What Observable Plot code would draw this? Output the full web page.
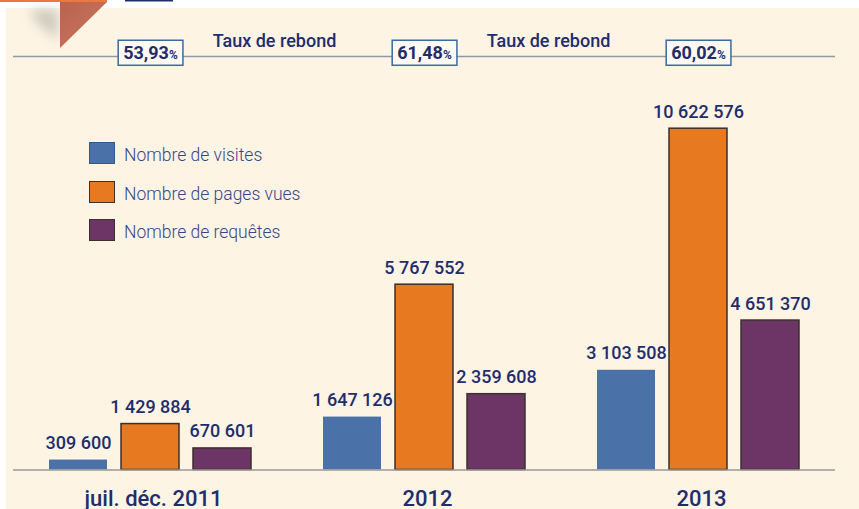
<!DOCTYPE html>
<html><head><meta charset="utf-8">
<script src="https://cdn.jsdelivr.net/npm/d3@7"></script>
<script src="https://cdn.jsdelivr.net/npm/@observablehq/plot@0.6"></script>
<style>
body{margin:0;background:#fff;}
#wrap{position:relative;width:859px;height:509px;overflow:hidden;font-family:Roboto,"Liberation Sans",sans-serif;}
#panel{position:absolute;left:6px;top:8px;right:0;bottom:0;background:#fdf4e4;}
#deco{position:absolute;left:0;top:0;}
#chart{position:absolute;left:0;top:0;}
#legend{position:absolute;left:89px;top:142px;}
.li{display:flex;align-items:center;height:22px;margin-bottom:16.5px;}
.sw{width:24px;height:20px;margin-right:9px;box-sizing:content-box;}
.lt{font-size:17.5px;font-weight:300;color:#34468a;position:relative;top:2px;}
</style></head>
<body>
<div id="wrap">
  <div id="panel"></div>
  <svg id="deco" width="859" height="60">
    <defs>
      <filter id="blur" x="-50%" y="-50%" width="200%" height="200%"><feGaussianBlur stdDeviation="6"/></filter>
      <linearGradient id="tri" x1="0" y1="0" x2="1" y2="1">
        <stop offset="0" stop-color="#b9634f"/><stop offset="1" stop-color="#c8775f"/>
      </linearGradient>
    </defs>
    <path d="M58,9 L30,10 L36,22 L58,40 Z" fill="#7a7a7a" opacity="0.35" filter="url(#blur)"/>
    <rect x="0" y="0" width="107" height="2" fill="#e8793f"/>
    <rect x="125" y="0" width="48" height="1.5" fill="#1f2d6d"/>
    <path d="M60,2 L107,2 L60,48 Z" fill="url(#tri)"/>
  </svg>
  <div id="chart"></div>
  <div id="legend"></div>
</div>
<script>
const years = ["juil. déc. 2011", "2012", "2013"];
const seriesKeys = ["visites", "pages", "requetes"];
const seriesLabels = ["Nombre de visites", "Nombre de pages vues", "Nombre de requêtes"];
const seriesColors = ["#4a72a9", "#e77920", "#6d3566"];
const visites = [309600, 1647126, 3103508];
const pages = [1429884, 5767552, 10622576];
const requetes = [670601, 2359608, 4651370];
const rebond = [53.93, 61.48, 60.02];
const rebondLabel = "Taux de rebond";

const navy = "#1f2d6d";
const valuesBySeries = {visites, pages, requetes};
const data = [];
years.forEach((y, i) => seriesKeys.forEach(s => data.push({year: y, series: s, value: valuesBySeries[s][i]})));
const rebondData = years.map((y, i) => ({year: y, rate: rebond[i]}));
const fmt = v => d3.format(",")(v).replace(/,/g, " ");
const fmtPct = v => d3.format(".2f")(v).replace(".", ",");
const yMax = 12870000;

const plot = Plot.plot({
  width: 859, height: 509,
  marginLeft: 13, marginRight: 24, marginTop: 56, marginBottom: 39.5,
  style: {background: "transparent", fontFamily: "Roboto, 'Liberation Sans', sans-serif", overflow: "visible"},
  fx: {domain: years, padding: 0, axis: null},
  x: {domain: seriesKeys, paddingInner: 0.19, paddingOuter: 0.4726, axis: null},
  y: {domain: [0, yMax], axis: null},
  color: {domain: seriesKeys, range: seriesColors},
  marks: [
    Plot.ruleY([yMax], {stroke: "#8e9aa6", strokeWidth: 1.5}),
    Plot.barY(data.filter(d => d.series === "visites"), {fx: "year", x: "series", y: "value", fill: "series"}),
    Plot.barY(data.filter(d => d.series !== "visites"), {fx: "year", x: "series", y: "value", fill: "series", stroke: "#3b2f2f", strokeWidth: 1.5}),
    Plot.ruleY([0], {stroke: "#9a9a9a", strokeWidth: 1.5}),
    Plot.text(data, {fx: "year", x: "series", y: "value", text: d => fmt(d.value), lineAnchor: "bottom", dy: -11, fontSize: 18, fontWeight: 500, fill: navy}),
    Plot.text(years, {fx: d => d, text: d => d, frameAnchor: "bottom", lineAnchor: "bottom", dy: 35.5, dx: 3, fontSize: 22, fontWeight: 500, fill: navy}),
    Plot.text(years.slice(1), {fx: d => d, text: () => rebondLabel, frameAnchor: "top-left", textAnchor: "middle", dx: -13, dy: -22, fontSize: 18, fontWeight: 500, fill: navy}),
    Plot.text(rebondData, {fx: "year", text: d => fmtPct(d.rate), frameAnchor: "top", lineAnchor: "middle", dy: -3, fontSize: 18, fontWeight: 700, fill: navy})
  ]
});
document.getElementById("chart").appendChild(plot);

// boxes around rebond values, with a small % sign
const pctTexts = new Set(rebond.map(fmtPct));
d3.select(plot).selectAll("text").filter(function() { return pctTexts.has(this.textContent); }).each(function() {
  const t = d3.select(this);
  t.append("tspan").attr("font-size", 12).text("%");
  const b = this.getBBox();
  const tr = t.attr("transform");
  const r = d3.select(this.parentNode).insert("rect", () => this)
    .attr("x", b.x - 5).attr("y", b.y - 2).attr("width", b.width + 10).attr("height", b.height + 4)
    .attr("fill", "#fffaf1").attr("stroke", "#3a6aa0").attr("stroke-width", 1.5);
  if (tr) r.attr("transform", tr);
});

// legend
const leg = d3.select("#legend");
seriesKeys.forEach((s, i) => {
  const row = leg.append("div").attr("class", "li");
  row.append("div").attr("class", "sw")
    .style("background", seriesColors[i])
    .style("border", i === 0 ? `1px solid #2f5a8f` : `1px solid #3b2f2f`);
  row.append("div").attr("class", "lt").text(seriesLabels[i]);
});
</script>
</body></html>
